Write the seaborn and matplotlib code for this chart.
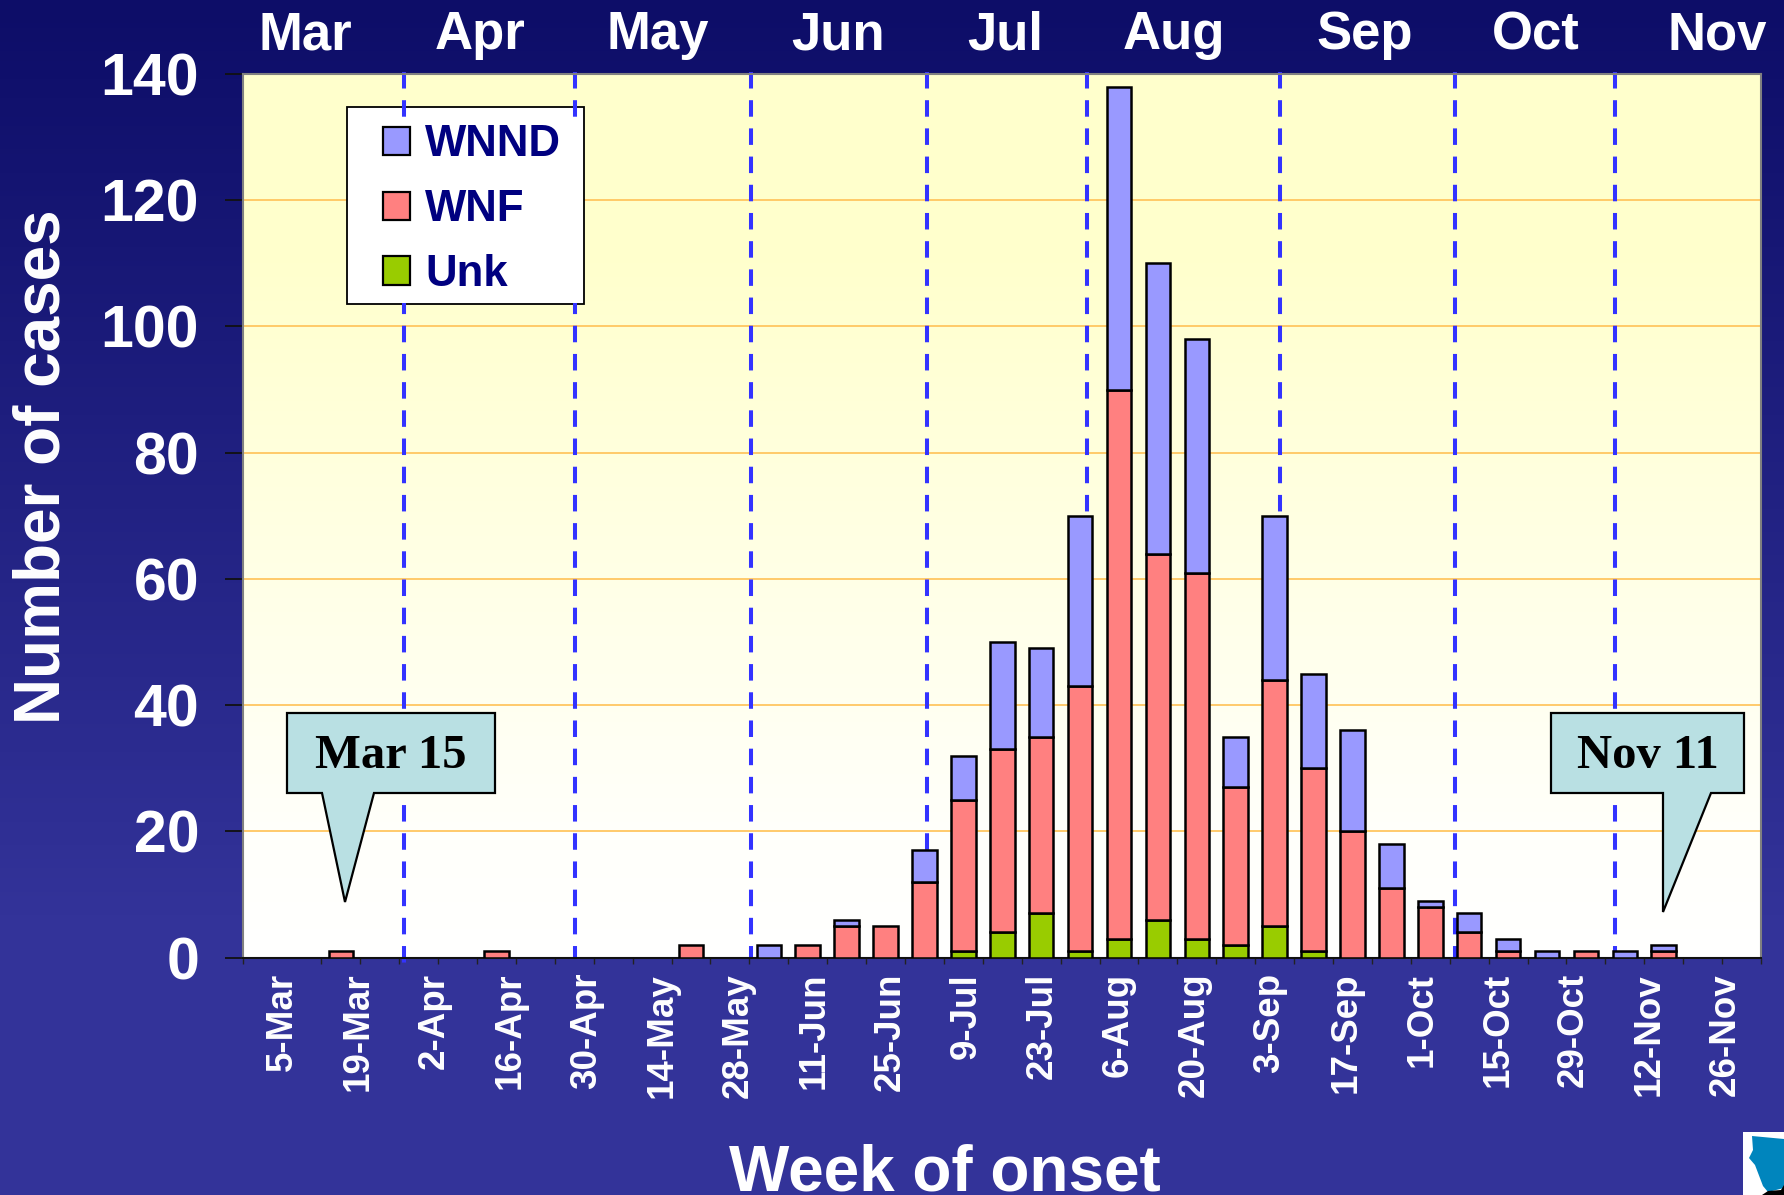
import numpy as np
import pandas as pd
import matplotlib
matplotlib.use('Agg')
import matplotlib.pyplot as plt
import seaborn as sns
from matplotlib.patches import Patch, Polygon, Rectangle
from matplotlib.colors import LinearSegmentedColormap
from matplotlib.transforms import Affine2D

# Data, one entry per week starting 5-Mar
weeks = ['5-Mar', '12-Mar', '19-Mar', '26-Mar', '2-Apr', '9-Apr', '16-Apr', '23-Apr',
         '30-Apr', '7-May', '14-May', '21-May', '28-May', '4-Jun', '11-Jun', '18-Jun',
         '25-Jun', '2-Jul', '9-Jul', '16-Jul', '23-Jul', '30-Jul', '6-Aug', '13-Aug',
         '20-Aug', '27-Aug', '3-Sep', '10-Sep', '17-Sep', '24-Sep', '1-Oct', '8-Oct',
         '15-Oct', '22-Oct', '29-Oct', '5-Nov', '12-Nov', '19-Nov', '26-Nov']
unk = [0, 0, 0, 0, 0, 0, 0, 0, 0, 0, 0, 0, 0, 0, 0, 0, 0, 0, 1, 4, 7, 1, 3, 6, 3, 2, 5, 1,
       0, 0, 0, 0, 0, 0, 0, 0, 0, 0, 0]
wnf = [0, 0, 1, 0, 0, 0, 1, 0, 0, 0, 0, 2, 0, 0, 2, 5, 5, 12, 24, 29, 28, 42, 87, 58, 58,
       25, 39, 29, 20, 11, 8, 4, 1, 0, 1, 0, 1, 0, 0]
wnnd = [0, 0, 0, 0, 0, 0, 0, 0, 0, 0, 0, 0, 0, 2, 0, 1, 0, 5, 7, 17, 14, 27, 48, 46, 37,
        8, 26, 15, 16, 7, 1, 3, 2, 1, 0, 1, 1, 0, 0]
y_ticks = [0, 20, 40, 60, 80, 100, 120, 140]
month_names = ['Mar', 'Apr', 'May', 'Jun', 'Jul', 'Aug', 'Sep', 'Oct', 'Nov']
month_breaks = [3.63, 8.02, 12.55, 17.06, 21.18, 26.13, 30.63, 34.76]

df = pd.DataFrame({'week': weeks, 'Unk': unk, 'WNF': wnf, 'WNND': wnnd})

sns.set_theme(style='white')
plt.rcParams['font.family'] = ['Liberation Sans', 'DejaVu Sans']
plt.rcParams['font.weight'] = 'bold'

W, H = 1784, 1195
fig = plt.figure(figsize=(W / 100, H / 100), dpi=100)
px = Affine2D().scale(1 / W, -1 / H).translate(0, 1) + fig.transFigure

# slide background
bg = fig.add_axes([0, 0, 1, 1], zorder=-1)
bg_cmap = LinearSegmentedColormap.from_list('slide', ['#0D0D68', '#333399'])
bg.imshow(np.clip(np.linspace(0, 1.3, 256), 0, 1)[:, None], aspect='auto', cmap=bg_cmap, vmin=0, vmax=1)
bg.axis('off')

ax = fig.add_axes([243.5 / W, 1 - 957.5 / H, (1761 - 243.5) / W, (957.5 - 74) / H])

# plot area gradient
plot_cmap = LinearSegmentedColormap.from_list('plot', [(0, '#FFFFCC'), (0.2, '#FFFFCC'), (0.85, '#FFFFFA'), (1, '#FFFFFF')])
ax.imshow(np.linspace(0, 1, 256)[:, None], aspect='auto', cmap=plot_cmap,
          extent=(-0.5, 38.5, 0, 140), zorder=-2)

# stacked weekly bars
colors = {'Unk': '#99CC00', 'WNF': '#FF8080', 'WNND': '#9999FF'}
bottoms = np.zeros(len(weeks))
for name in ['Unk', 'WNF', 'WNND']:
    sns.barplot(data=df, x='week', y=name, bottom=bottoms, color=colors[name], saturation=1,
                width=0.63, edgecolor='black', linewidth=1.8, ax=ax, zorder=3)
    bottoms = bottoms + df[name].values

# empty weeks should leave nothing on the baseline
for p in list(ax.patches):
    if p.get_height() == 0:
        p.remove()

ax.set_xlim(-0.5, 38.5)
ax.set_ylim(0, 140)
ax.set_axisbelow(True)
ax.yaxis.grid(True, color='#FFC660', linewidth=1.3)
ax.xaxis.grid(False)

# month boundaries
for i, x in enumerate(month_breaks):
    y_end = -1.6 if i == 0 else 0
    ax.plot([x, x], [140.3, y_end], color='#3333FF', lw=2.9, dashes=(4.1, 2.9),
            clip_on=False, zorder=2)

# y axis
ax.set_yticks(y_ticks)
ax.tick_params(axis='y', length=13, width=1.3, color='#111111', left=True, pad=19,
               labelsize=42.5, labelcolor='white')

# x axis, labels drift against the bars in the original
ax.set_xticks(np.arange(-0.5, 39), minor=True)
ax.tick_params(axis='x', which='minor', length=4, width=1, color='#222222', bottom=True)
label_pos = [0.50 + i * 0.976 for i in range(0, 39, 2)]
ax.set_xticks(label_pos)
ax.set_xticklabels(weeks[::2], rotation=90, fontsize=26.5, color='white', fontweight='bold')
ax.tick_params(axis='x', which='major', length=0, pad=11)
ax.set_xlabel('Week of onset', fontsize=46, color='white', fontweight='bold')
ax.xaxis.set_label_coords(0.462, -0.21)
ax.set_ylabel('Number of cases', fontsize=46, color='white', fontweight='bold')
ax.yaxis.set_label_coords(-0.113, 0.556)

for side in ['top', 'left', 'right']:
    ax.spines[side].set_visible(True)
    ax.spines[side].set_color('#808080')
    ax.spines[side].set_linewidth(1.5)
ax.spines['bottom'].set_color('#111111')
ax.spines['bottom'].set_linewidth(1.5)

# month names above the plot
month_x = [305, 480, 658, 838, 1005, 1174, 1365, 1536, 1717]
for name, x in zip(month_names, month_x):
    fig.text(x, 35, name, transform=px, ha='center', va='center', color='white',
             fontsize=38, fontweight='bold')

# legend, the box sits under the dashes and a mask hides them below its top edge
ax.add_patch(Rectangle((347, 107), 237, 197, transform=px, facecolor='white', edgecolor='black',
                       linewidth=1.3, zorder=1.9, clip_on=False))
ax.add_patch(Rectangle((349, 118), 233, 185, transform=px, facecolor='white', edgecolor='none',
                       zorder=2.5, clip_on=False))
handles = [Patch(facecolor=colors[n], edgecolor='black', linewidth=1.6, label=n)
           for n in ['WNND', 'WNF', 'Unk']]
leg = ax.legend(handles=handles, loc='upper left', bbox_to_anchor=(383 / W, 1 - 124.5 / H),
                bbox_transform=fig.transFigure, frameon=False, handlelength=0.62, handleheight=0.62,
                handletextpad=0.34, labelspacing=0.54, borderpad=0, borderaxespad=0,
                prop={'family': 'Liberation Sans', 'weight': 'bold', 'size': 31.5})
leg.set_zorder(6)
for t in leg.get_texts():
    t.set_color('#000080')

# callouts
def callout(box, tail, tip, text):
    left, right, top, bottom = box
    pts = [(left, top), (right, top), (right, bottom), (tail[1], bottom), tip, (tail[0], bottom), (left, bottom)]
    ax.add_patch(Polygon(pts, closed=True, transform=px, facecolor='#B9E0E3', edgecolor='black',
                         linewidth=1.6, zorder=7, clip_on=False))
    ax.text((left + right) / 2, (top + bottom) / 2 + 3, text, transform=px, ha='center', va='center',
            family='Liberation Serif', fontweight='bold', fontsize=35, color='black', zorder=8)

callout((287, 495, 713, 793), (322, 374), (345, 902), 'Mar 15')
callout((1551, 1744, 713, 793), (1663, 1711), (1663, 912), 'Nov 11')

# corner logo
fig.add_artist(Rectangle((1743, 1132), 41, 63, transform=px, facecolor='white', edgecolor='none'))
fig.add_artist(Polygon([(1752, 1136), (1784, 1139), (1784, 1188), (1768, 1192), (1763, 1186), (1755, 1165),
                        (1749, 1158), (1753, 1150)], closed=True, transform=px,
                       facecolor='#0085BD', edgecolor='none'))
fig.add_artist(Polygon([(1762, 1195), (1768, 1191), (1781, 1190), (1784, 1185), (1784, 1195)], closed=True,
                       transform=px, facecolor='black', edgecolor='none'))

fig.savefig('out.png', dpi=100)
